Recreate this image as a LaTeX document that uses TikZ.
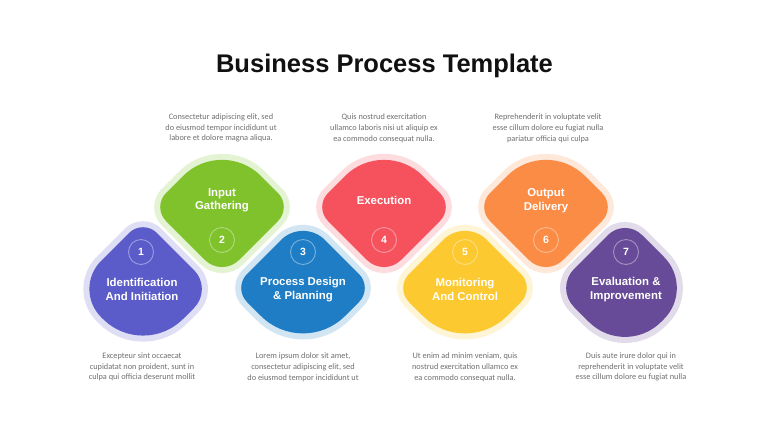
\documentclass[tikz,border=0pt]{standalone}
\usepackage{fontspec}
\setmainfont{Liberation Sans}
\newfontfamily\descfont{Carlito}
\definecolor{cA}{HTML}{5B5BC9}
\definecolor{cB}{HTML}{7FC22B}
\definecolor{cC}{HTML}{1E7DC4}
\definecolor{cD}{HTML}{F5525E}
\definecolor{cE}{HTML}{FCC930}
\definecolor{cF}{HTML}{FA8C45}
\definecolor{cG}{HTML}{684B98}
\definecolor{desccol}{HTML}{707070}
\definecolor{titlecol}{HTML}{111111}
% #1 cx, #2 cy, #3 d, #4 s-top, #5 s-right, #6 s-bottom, #7 s-left, #8 style
\newcommand\dshape[8]{%
  \path[#8] ({#1+(#4)},{#2-(#3)+(#4)}) -- ({#1+(#3)-(#5)},{#2-(#5)})
   .. controls ({#1+(#3)-0.4477*(#5)},{#2-0.4477*(#5)}) and ({#1+(#3)-0.4477*(#5)},{#2+0.4477*(#5)}) .. ({#1+(#3)-(#5)},{#2+(#5)})
   -- ({#1+(#6)},{#2+(#3)-(#6)})
   .. controls ({#1+0.4477*(#6)},{#2+(#3)-0.4477*(#6)}) and ({#1-0.4477*(#6)},{#2+(#3)-0.4477*(#6)}) .. ({#1-(#6)},{#2+(#3)-(#6)})
   -- ({#1-(#3)+(#7)},{#2+(#7)})
   .. controls ({#1-(#3)+0.4477*(#7)},{#2+0.4477*(#7)}) and ({#1-(#3)+0.4477*(#7)},{#2-0.4477*(#7)}) .. ({#1-(#3)+(#7)},{#2-(#7)})
   -- ({#1-(#4)},{#2-(#3)+(#4)})
   .. controls ({#1-0.4477*(#4)},{#2-(#3)+0.4477*(#4)}) and ({#1+0.4477*(#4)},{#2-(#3)+0.4477*(#4)}) .. ({#1+(#4)},{#2-(#3)+(#4)})
   -- cycle;}
% shape with halo: #1 cx #2 cy #3 st #4 sr #5 sb #6 sl #7 colour
\newcommand\blob[7]{%
  \dshape{#1}{#2}{78.5}{#3+4.2}{#4+4.2}{#5+4.2}{#6+4.2}{fill=#7!20}
  \dshape{#1}{#2}{70}{#3}{#4}{#5}{#6}{fill=#7}}
\tikzset{
  numc/.style={circle, draw=white, draw opacity=0.4, line width=0.9pt,
    minimum size=25pt, inner sep=0pt, text=white,
    font=\fontsize{10.5}{12}\selectfont\bfseries},
  lbl/.style={align=center, text=white, inner sep=0pt,
    font=\fontsize{11.4}{13.4}\selectfont\bfseries},
  desc/.style={align=center, text=desccol, inner sep=0pt,
    font=\descfont\fontsize{8.3}{10.8}\selectfont},
}
\begin{document}
\begin{tikzpicture}[x=1pt,y=-1pt]
\useasboundingbox (0,0) rectangle (768,432);
\fill[white] (0,0) rectangle (768,432);
\node[font=\fontsize{25.5}{30}\selectfont\bfseries, text=titlecol] (title) at (384.5,66) {Business Process Template};
% shapes
\blob{143}{289}{14}{19}{40}{28}{cA}
\blob{222}{207}{39}{14}{17}{14}{cB}
\blob{303}{288}{22}{14}{42}{14}{cC}
\blob{384}{207}{39}{14}{17}{14}{cD}
\blob{465}{288}{22}{14}{42}{14}{cE}
\blob{546}{207}{39}{14}{17}{14}{cF}
\blob{625}{288}{17}{31}{36}{19}{cG}
% numbers
\node[numc] (n1) at (141,252) {1};
\node[numc] (n2) at (222,240) {2};
\node[numc] (n3) at (303,252) {3};
\node[numc] (n4) at (384,240) {4};
\node[numc] (n5) at (465,252) {5};
\node[numc] (n6) at (546,240) {6};
\node[numc] (n7) at (626,252) {7};
% labels
\node[lbl] (l1) at (142,289.5) {Identification\\And Initiation};
\node[lbl] (l2) at (222,200.5) {Input\\Gathering};
\node[lbl] (l3) at (303,289.5) {Process Design\\\& Planning};
\node[lbl] (l4) at (384,200) {Execution};
\node[lbl] (l5) at (465,289.5) {Monitoring\\And Control};
\node[lbl] (l6) at (546,200.5) {Output\\Delivery};
\node[lbl] (l7) at (626,289.5) {Evaluation \&\\Improvement};
% descriptions
\node[desc] (d2) at (221,128) {Consectetur adipiscing elit, sed\\do eiusmod tempor incididunt ut\\labore et dolore magna aliqua.};
\node[desc] (d4) at (384,128) {Quis nostrud exercitation\\ullamco laboris nisi ut aliquip ex\\ea commodo consequat nulla.};
\node[desc] (d6) at (548,128) {Reprehenderit in voluptate velit\\esse cillum dolore eu fugiat nulla\\pariatur officia qui culpa};
\node[desc] (d1) at (142,367) {Excepteur sint occaecat\\cupidatat non proident, sunt in\\culpa qui officia deserunt mollit};
\node[desc] (d3) at (303,367) {Lorem ipsum dolor sit amet,\\consectetur adipiscing elit, sed\\do eiusmod tempor incididunt ut};
\node[desc] (d5) at (465,367) {Ut enim ad minim veniam, quis\\nostrud exercitation ullamco ex\\ea commodo consequat nulla.};
\node[desc] (d7) at (631,367) {Duis aute irure dolor qui in\\reprehenderit in voluptate velit\\esse cillum dolore eu fugiat nulla};
\end{tikzpicture}
\end{document}
